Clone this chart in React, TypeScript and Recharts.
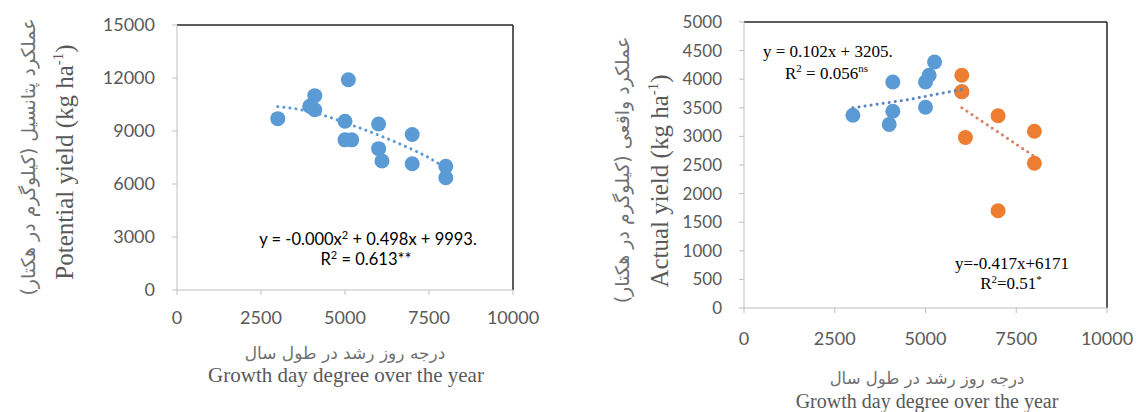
import React from 'react';
import { ScatterChart, Scatter, XAxis, YAxis, ReferenceLine } from 'recharts';

// left panel: potential yield
const potentialGdd = [3000, 4100, 3950, 4100, 5100, 5000, 5000, 5200, 6000, 6000, 6100, 7000, 7000, 8000, 8000];
const potentialYield = [9700, 11000, 10400, 10200, 11900, 9550, 8500, 8500, 9400, 8000, 7300, 8800, 7150, 7000, 6350];
// trend
const potTrendGdd = [3000, 3500, 4000, 4500, 5000, 5500, 6000, 6500, 7000, 7500, 8000];
const potTrendYield = [10380, 10270, 10080, 9810, 9470, 9130, 8770, 8380, 7960, 7490, 6900];

// right panel: actual yield, two groups
const actualGddA = [3000, 4100, 4100, 4000, 5000, 5100, 5250, 5000, 6000];
const actualYieldA = [3370, 3950, 3440, 3210, 3950, 4070, 4300, 3510, 3780];
const actualGddB = [6000, 6000, 6100, 7000, 7000, 8000, 8000];
const actualYieldB = [4070, 3780, 2980, 3360, 1700, 3090, 2530];
const trendGddA = [3000, 4500, 6000];
const trendYieldA = [3500, 3640, 3820];
const trendGddB = [6000, 8000];
const trendYieldB = [3500, 2650];

const xTicks = [0, 2500, 5000, 7500, 10000];
const potTicks = [0, 3000, 6000, 9000, 12000, 15000];
const actTicks = [0, 500, 1000, 1500, 2000, 2500, 3000, 3500, 4000, 4500, 5000];

const BLUE = '#5B9BD5';
const ORANGE = '#ED7D31';
const AXIS = '#BFBFBF';
const GREY = '#595959';
const FA_GREY = '#707070';
const TICK_FONT = 'Lato, "Open Sans", sans-serif';
const SERIF = '"Liberation Serif", "DejaVu Serif", serif';
const FA = '"DejaVu Sans", sans-serif';

const zip = (xs: number[], ys: number[]) => xs.map((x, i) => ({ x, y: ys[i] }));

const dot = (color: string, r: number) => (p: any) => <circle cx={p.cx} cy={p.cy} r={r} fill={color} />;
const none = () => <g />;

const dotted = (color: string) => ({
  stroke: color,
  strokeWidth: 3,
  strokeDasharray: '0.1 6',
  strokeLinecap: 'round' as const,
});

const Txt = ({ x, y, children, style, rotate }: any) => (
  <div
    style={{
      position: 'absolute',
      left: x,
      top: y,
      transform: `translate(-50%, -50%)${rotate ? ' rotate(-90deg)' : ''}`,
      whiteSpace: 'nowrap',
      lineHeight: 1,
      ...style,
    }}
  >
    {children}
  </div>
);

export default function App() {
  return (
    <div style={{ position: 'absolute', left: 0, top: 0, width: 1139, height: 412, background: '#fff', overflow: 'hidden' }}>
      <div style={{ position: 'absolute', left: 0, top: 0 }}>
        <ScatterChart width={560} height={412} margin={{ top: 25, right: 47, bottom: 92, left: 117 }}>
          <XAxis
            type="number"
            dataKey="x"
            domain={[0, 10000]}
            ticks={xTicks}
            stroke={AXIS}
            tickSize={5}
            tickMargin={16}
            tick={{ fill: GREY, fontSize: 18, fontFamily: TICK_FONT }}
            height={30}
          />
          <YAxis
            type="number"
            dataKey="y"
            domain={[0, 15000]}
            ticks={potTicks}
            stroke={AXIS}
            tickSize={5}
            tickMargin={17}
            tick={{ fill: GREY, fontSize: 18, fontFamily: TICK_FONT }}
            width={60}
          />
          <ReferenceLine y={15000} stroke="#262626" strokeWidth={1.5} />
          <ReferenceLine x={10000} stroke="#262626" strokeWidth={1.5} />
          <Scatter data={zip(potentialGdd, potentialYield)} shape={dot(BLUE, 7.5)} isAnimationActive={false} />
          <Scatter
            data={zip(potTrendGdd, potTrendYield)}
            shape={none}
            line={dotted(BLUE)}
            isAnimationActive={false}
          />
        </ScatterChart>
      </div>

      <div style={{ position: 'absolute', left: 580, top: 0 }}>
        <ScatterChart width={559} height={412} margin={{ top: 22, right: 32, bottom: 74, left: 104 }}>
          <XAxis
            type="number"
            dataKey="x"
            domain={[0, 10000]}
            ticks={xTicks}
            stroke={AXIS}
            tickSize={5}
            tickMargin={19}
            tick={{ fill: GREY, fontSize: 18, fontFamily: TICK_FONT }}
            height={30}
          />
          <YAxis
            type="number"
            dataKey="y"
            domain={[0, 5000]}
            ticks={actTicks}
            stroke={AXIS}
            tickSize={5}
            tickMargin={17}
            tick={{ fill: GREY, fontSize: 17, fontFamily: TICK_FONT }}
            width={60}
          />
          <ReferenceLine y={5000} stroke="#262626" strokeWidth={1.5} />
          <ReferenceLine x={10000} stroke="#262626" strokeWidth={1.5} />
          <Scatter data={zip(actualGddA, actualYieldA)} shape={dot(BLUE, 7.5)} isAnimationActive={false} />
          <Scatter data={zip(actualGddB, actualYieldB)} shape={dot(ORANGE, 7.5)} isAnimationActive={false} />
          <Scatter data={zip(trendGddA, trendYieldA)} shape={none} line={dotted('#5A86C0')} lineType="joint" isAnimationActive={false} />
          <Scatter data={zip(trendGddB, trendYieldB)} shape={none} line={dotted('#D98468')} isAnimationActive={false} />
        </ScatterChart>
      </div>

      {/* left axis titles */}
      <Txt x={28} y={157} rotate style={{ fontFamily: FA, fontSize: 19, color: FA_GREY }}>
        <span dir="rtl">عملکرد پتانسیل (کیلوگرم در هکتار)</span>
      </Txt>
      <Txt x={64} y={162} rotate style={{ fontFamily: SERIF, fontSize: 25, color: GREY }}>
        Potential yield (kg ha<sup style={{ fontSize: 15 }}>-1</sup>)
      </Txt>
      <Txt x={345} y={353} style={{ fontFamily: FA, fontSize: 17, color: FA_GREY }}>
        <span dir="rtl">درجه روز رشد در طول سال</span>
      </Txt>
      <Txt x={346} y={375} style={{ fontFamily: SERIF, fontSize: 21, color: GREY }}>
        Growth day degree over the year
      </Txt>
      <Txt x={368} y={238} style={{ fontFamily: TICK_FONT, fontSize: 16.5, color: '#000' }}>
        y = -0.000x<sup style={{ fontSize: 11 }}>2</sup> + 0.498x + 9993.
      </Txt>
      <Txt x={366} y={258} style={{ fontFamily: TICK_FONT, fontSize: 16.5, color: '#000' }}>
        R<sup style={{ fontSize: 11 }}>2</sup> = 0.613**
      </Txt>

      {/* right axis titles */}
      <Txt x={622} y={170} rotate style={{ fontFamily: FA, fontSize: 19, color: FA_GREY }}>
        <span dir="rtl">عملکرد واقعی (کیلوگرم در هکتار)</span>
      </Txt>
      <Txt x={659} y={181} rotate style={{ fontFamily: SERIF, fontSize: 25, color: GREY }}>
        Actual yield (kg ha<sup style={{ fontSize: 15 }}>-1</sup>)
      </Txt>
      <Txt x={927} y={379} style={{ fontFamily: FA, fontSize: 16.5, color: FA_GREY }}>
        <span dir="rtl">درجه روز رشد در طول سال</span>
      </Txt>
      <Txt x={927} y={401} style={{ fontFamily: SERIF, fontSize: 20, color: GREY }}>
        Growth day degree over the year
      </Txt>
      <div style={{ position: 'absolute', left: 763, top: 43, fontFamily: SERIF, fontSize: 17, whiteSpace: 'nowrap', lineHeight: 1 }}>
        y = 0.102x + 3205.
      </div>
      <div style={{ position: 'absolute', left: 785, top: 63, fontFamily: SERIF, fontSize: 17, whiteSpace: 'nowrap', lineHeight: 1 }}>
        R<sup style={{ fontSize: 11 }}>2</sup> = 0.056<sup style={{ fontSize: 11 }}>ns</sup>
      </div>
      <Txt x={1012} y={263} style={{ fontFamily: SERIF, fontSize: 17, color: '#000' }}>
        y=-0.417x+6171
      </Txt>
      <Txt x={1011} y={283} style={{ fontFamily: SERIF, fontSize: 17, color: '#000' }}>
        R<sup style={{ fontSize: 11 }}>2</sup>=0.51<sup style={{ fontSize: 11 }}>*</sup>
      </Txt>
    </div>
  );
}
